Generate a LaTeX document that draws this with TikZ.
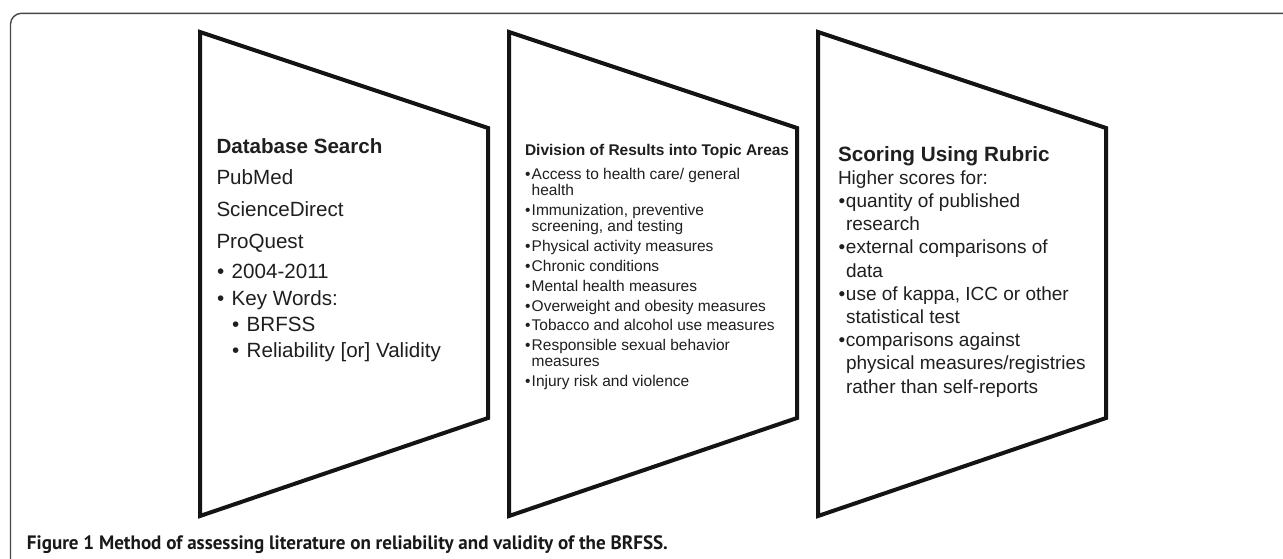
\documentclass[tikz,border=0pt]{standalone}
\usepackage{fontspec}
\setmainfont{Liberation Sans}
\newfontfamily\capfont{PT Sans}
\begin{document}
\begin{tikzpicture}[x=1pt,y=-1pt,
  panel/.style={line width=4pt, draw=black!92, line join=miter},
  frameline/.style={line width=1.4pt, draw=black!72, rounded corners=11pt},
  txt/.style={anchor=base west, inner sep=0pt, outer sep=0pt, text=black!88},
  hA/.style={txt, font=\fontsize{20.6}{24}\selectfont\bfseries},
  tA/.style={txt, font=\fontsize{20.6}{24}\selectfont},
  hB/.style={txt, font=\fontsize{15.5}{18}\selectfont\bfseries},
  tB/.style={txt, font=\fontsize{15.5}{18}\selectfont},
  hC/.style={txt, font=\fontsize{20.7}{24}\selectfont\bfseries},
  tC/.style={txt, font=\fontsize{19}{22}\selectfont},
  capt/.style={txt, font=\capfont\bfseries\fontsize{19.4}{22}\selectfont, text=black!90}]
\useasboundingbox (0,0) rectangle (1283,558);
\fill[white] (0,0) rectangle (1283,558);
% outer frame (cropped figure box)
\draw[frameline] (10.5,575) -- (10.5,13.3) -- (1300,13.3);
% panels
\draw[panel] (200,32) -- (488,128) -- (488,418) -- (200,516) -- cycle;
\draw[panel] (509,32) -- (797,128) -- (797,418) -- (509,516) -- cycle;
\draw[panel] (818,32) -- (1106,128) -- (1106,418) -- (818,516) -- cycle;
% panel 1
\node[hA] (p1h) at (216.5,153) {Database Search};
\node[tA] (p1a) at (216.5,184.3) {PubMed};
\node[tA] (p1b) at (216.5,216) {ScienceDirect};
\node[tA] (p1c) at (216.5,248) {ProQuest};
\node[tA] (p1d) at (217,278.3) {\makebox[14.7pt][l]{•}2004-2011};
\node[tA] (p1e) at (217,305) {\makebox[14.7pt][l]{•}Key Words:};
\node[tA] (p1f) at (232,331.7) {\makebox[14.7pt][l]{•}BRFSS};
\node[tA] (p1g) at (232,357.3) {\makebox[14.7pt][l]{•}Reliability [or] Validity};
% panel 2
\node[hB] (p2h) at (525,155.7) {Division of Results into Topic Areas};
\node[tB] (p2a) at (525,179) {\makebox[6.7pt][l]{•}Access to health care/ general};
\node[tB] (p2a2) at (531.7,195.5) {health};
\node[tB] (p2b) at (525,215) {\makebox[6.7pt][l]{•}Immunization, preventive};
\node[tB] (p2b2) at (531.7,231.5) {screening, and testing};
\node[tB] (p2c) at (525,251.5) {\makebox[6.7pt][l]{•}Physical activity measures};
\node[tB] (p2d) at (525,271.5) {\makebox[6.7pt][l]{•}Chronic conditions};
\node[tB] (p2e) at (525,291) {\makebox[6.7pt][l]{•}Mental health measures};
\node[tB] (p2f) at (525,311) {\makebox[6.7pt][l]{•}Overweight and obesity measures};
\node[tB] (p2g) at (525,330.5) {\makebox[6.7pt][l]{•}Tobacco and alcohol use measures};
\node[tB] (p2h2) at (525,350) {\makebox[6.7pt][l]{•}Responsible sexual behavior};
\node[tB] (p2i) at (531.7,366.5) {measures};
\node[tB] (p2j) at (525,386.5) {\makebox[6.7pt][l]{•}Injury risk and violence};
% panel 3
\node[hC] (p3h) at (838,161) {Scoring Using Rubric};
\node[tC] (p3a) at (838,184.3) {Higher scores for:};
\node[tC] (p3b) at (838.5,207.5) {\makebox[7.5pt][l]{•}quantity of published};
\node[tC] (p3b2) at (846,230.7) {research};
\node[tC] (p3c) at (838.5,253.9) {\makebox[7.5pt][l]{•}external comparisons of};
\node[tC] (p3c2) at (846,277.1) {data};
\node[tC] (p3d) at (838.5,300.3) {\makebox[7.5pt][l]{•}use of kappa, ICC or other};
\node[tC] (p3d2) at (846,323.5) {statistical test};
\node[tC] (p3e) at (838.5,346.7) {\makebox[7.5pt][l]{•}comparisons against};
\node[tC] (p3e2) at (846,369.9) {physical measures/registries};
\node[tC] (p3e3) at (846,393.1) {rather than self-reports};
% caption
\node[capt] (cap) at (27,549.3) {\scalebox{0.982}[1]{Figure 1 Method of assessing literature on reliability and validity of the BRFSS.}};
\end{tikzpicture}
\end{document}
